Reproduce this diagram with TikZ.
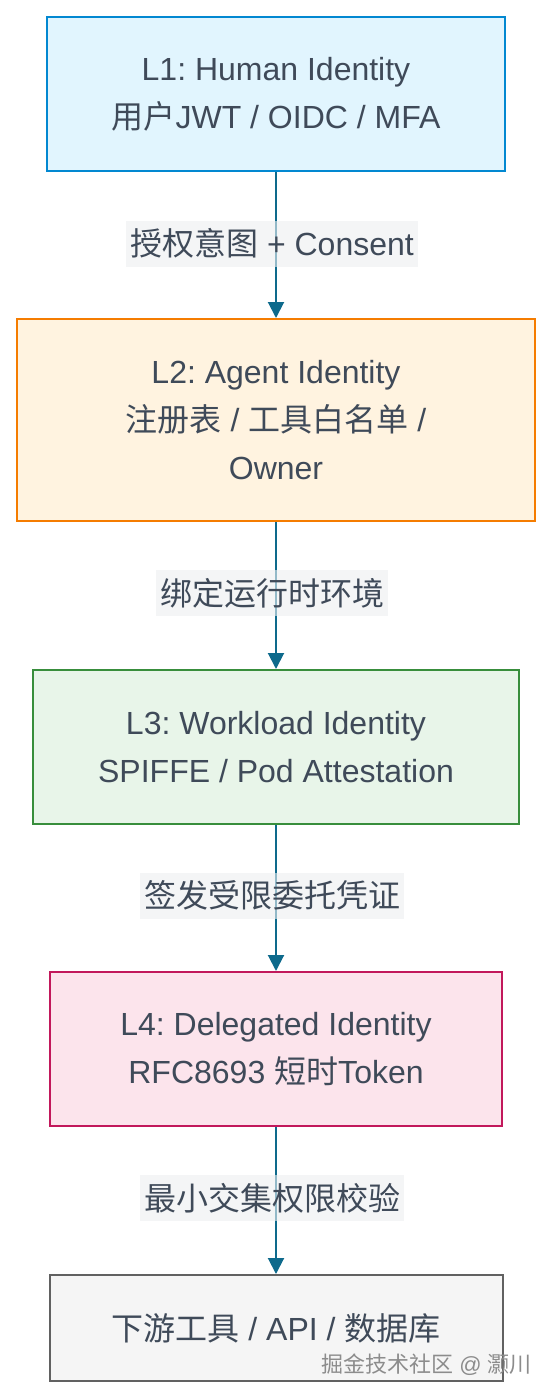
\documentclass[tikz,border=0pt]{standalone}
\usepackage{fontspec}
\setmainfont{Liberation Sans}
\newfontfamily\cjk{Noto Sans CJK SC}
\usetikzlibrary{arrows.meta}
\frenchspacing

\definecolor{txt}{RGB}{63,74,89}
\definecolor{flowc}{RGB}{14,106,140}
\definecolor{tagc}{RGB}{237,239,241}
\definecolor{blueF}{HTML}{E1F5FE}  \definecolor{blueD}{HTML}{0288D1}
\definecolor{orangeF}{HTML}{FFF3E0}\definecolor{orangeD}{HTML}{F57C00}
\definecolor{greenF}{HTML}{E8F5E9} \definecolor{greenD}{HTML}{388E3C}
\definecolor{pinkF}{HTML}{FCE4EC}  \definecolor{pinkD}{HTML}{C2185B}
\definecolor{grayF}{HTML}{F5F5F5}  \definecolor{grayD}{HTML}{616161}

\begin{document}
\begin{tikzpicture}[x=1pt,y=-1pt,
	layer/.style={draw,line width=2pt,inner sep=0pt,align=center,text=txt,font=\fontsize{32}{48}\selectfont},
	flow/.style={-{Triangle[width=16pt,length=16pt]},draw=flowc,line width=2pt},
	tag/.style={fill=tagc,fill opacity=0.6,text opacity=1,text=txt,inner xsep=4pt,inner ysep=0pt,minimum height=46pt,font=\fontsize{32}{48}\selectfont}]

		\path[use as bounding box,fill=white] (0,0) rectangle (552,1398);

		\node[layer,fill=blueF,draw=blueD,minimum width=458pt,minimum height=154pt] (l1) at (276,94) {L1: Human Identity\\{\cjk 用户}JWT / OIDC / MFA};
		\node[layer,fill=orangeF,draw=orangeD,minimum width=518pt,minimum height=202pt] (l2) at (276,420) {L2: Agent Identity\\{\cjk 注册表} / {\cjk 工具白名单} /\\Owner};
		\node[layer,fill=greenF,draw=greenD,minimum width=486pt,minimum height=154pt] (l3) at (276,747) {L3: Workload Identity\\SPIFFE / Pod Attestation};
		\node[layer,fill=pinkF,draw=pinkD,minimum width=452pt,minimum height=154pt] (l4) at (276,1049) {L4: Delegated Identity\\RFC8693 {\cjk 短时}Token};
		\node[layer,fill=grayF,draw=grayD,minimum width=453pt,minimum height=106pt] (l5) at (276,1328) {{\cjk 下游工具} / API / {\cjk 数据库}};

		\draw[flow] (l1) to (l2);
		\draw[flow] (l2) to (l3);
		\draw[flow] (l3) to (l4);
		\draw[flow] (l4) to (l5);

		\node[tag] (t1) at (272,243.5) {{\cjk 授权意图} + Consent\ };
		\node[tag] (t2) at (272,593)   {\cjk 绑定运行时环境};
		\node[tag] (t3) at (272,895.5) {\cjk 签发受限委托凭证};
		\node[tag] (t4) at (272,1198)  {\cjk 最小交集权限校验};

		\node[anchor=west,inner sep=0pt,text=black!45,font=\fontsize{22}{26}\selectfont] (wm) at (321,1365) {{\cjk 掘金技术社区} @ {\cjk 灏川}};

	\end{tikzpicture}
\end{document}
